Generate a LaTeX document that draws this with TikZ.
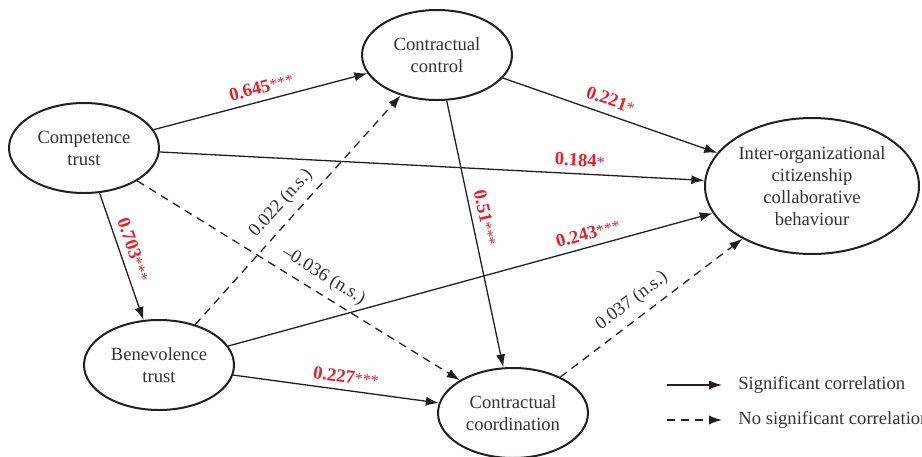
\documentclass[tikz,border=0pt]{standalone}
\usepackage{fontspec}
\setmainfont{Liberation Serif}
\usetikzlibrary{shapes.geometric,arrows.meta}

\definecolor{coefred}{RGB}{232,30,40}
\definecolor{textgray}{RGB}{50,50,50}
\definecolor{linegray}{RGB}{35,31,32}

\newcommand{\sigstars}[1]{{\mdseries\fontsize{8}{8}\selectfont #1}}

\begin{document}
\begin{tikzpicture}[
x=0.5pt, y=-0.5pt,
every node/.style={
align=center,
font=\fontsize{9.3}{11}\selectfont,
text=textgray
},
arrow/.style={-{Latex[length=6.5pt,width=4.6pt]}, line width=0.65pt, draw=linegray},
nsarrow/.style={arrow, dash pattern=on 4pt off 3pt}
]

\useasboundingbox (0,0) rectangle (922,456);

% =====================================================
% Styles
% =====================================================

\tikzstyle{construct} =
[ellipse,
draw=linegray,
line width=1pt,
inner sep=0pt,
minimum width=75pt,
minimum height=45pt]

\tikzstyle{outcome} =
[construct,
minimum width=107pt,
minimum height=68pt]

\tikzstyle{coef} =
[sloped, above,
text=coefred,
font=\fontsize{9.3}{11}\selectfont\bfseries]

\tikzstyle{nscoef} =
[sloped, above, inner sep=4pt]

% =====================================================
% Nodes
% =====================================================

\node (compet) [construct] at (84,148)
{Competence\\trust};

\node (control) [construct] at (437,55)
{Contractual\\control};

\node (benev) [construct] at (159,365)
{Benevolence\\trust};

\node (coord) [construct] at (513,413)
{Contractual\\coordination};

\node (ocb) [outcome] at (812,186)
{Inter-organizational\\citizenship\\collaborative\\behaviour};

% =====================================================
% Arrows
% =====================================================

\draw [arrow] (compet) -- node[coef, pos=.52] {0.645\sigstars{***}} (control);

\draw [arrow] (compet) -- node[coef, pos=.77] {0.184\sigstars{*}} (ocb);

\draw [arrow] (compet) -- node[coef, pos=.48] {0.703\sigstars{***}} (benev);

\draw [nsarrow] (benev) -- node[nscoef, pos=.48] {0.022 (n.s.)} (control);

\draw [nsarrow] (compet) -- node[nscoef, pos=.55] {--0.036 (n.s.)} (coord);

\draw [arrow] (control) -- node[coef, pos=.48, inner sep=4pt] {0.221\sigstars{*}} (ocb);

\draw [arrow] (control) -- node[coef, pos=.45] {0.51\sigstars{***}} (coord);

\draw [arrow] (benev) -- node[coef, pos=.75] {0.243\sigstars{***}} (ocb);

\draw [arrow] (benev) -- node[coef, pos=.54] {0.227\sigstars{***}} (coord);

\draw [nsarrow] (coord) -- node[nscoef, pos=.45] {0.037 (n.s.)} (ocb);

% =====================================================
% Legend
% =====================================================

\coordinate (sigstart) at (667,385);
\coordinate (sigend) at (722,385);
\node (sigtext) [anchor=west, inner sep=0pt] at (738,385)
{Significant correlation};
\draw [arrow] (sigstart) -- (sigend);

\coordinate (nsstart) at (667,420);
\coordinate (nsend) at (722,420);
\node (nstext) [anchor=west, inner sep=0pt] at (738,420)
{No significant correlation};
\draw [nsarrow] (nsstart) -- (nsend);

\end{tikzpicture}
\end{document}
